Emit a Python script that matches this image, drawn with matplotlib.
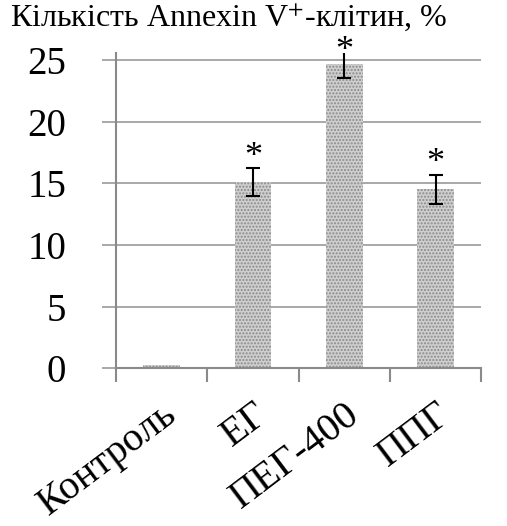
import numpy as np
import matplotlib.pyplot as plt

plt.rcParams['font.family'] = ['Liberation Serif', 'DejaVu Serif']
plt.rcParams['mathtext.fontset'] = 'stix'
plt.rcParams['hatch.linewidth'] = 1.0

groups = ['Контроль', 'ЕГ', 'ПЕГ-400', 'ППГ']
values = [0.25, 15.1, 24.7, 14.5]
errors = [0.0, 1.1, 1.2, 1.2]
significant = [False, True, True, True]

fig = plt.figure(figsize=(5.07, 5.26), dpi=100)
ax = fig.add_axes([0.229, 0.300, 0.720, 0.600])

x = np.arange(len(groups))
ax.bar(x, values, width=0.4, color='#cfcfcf', edgecolor='#8a8a8a',
       hatch='.....', linewidth=0, zorder=2)
ax.errorbar(x[1:], values[1:], yerr=errors[1:], fmt='none', ecolor='black',
            elinewidth=1.5, capsize=5, capthick=1.5, zorder=3)

# significance marks above the error bars, kept under the title
for xi, v, e, s in zip(x, values, errors, significant):
    if s:
        ax.text(xi, min(v + e + 0.9, 25.7), '*', ha='center', va='center',
                fontsize=26, clip_on=False)

ax.set_xlim(-0.5, len(groups) - 0.5)
ax.set_ylim(0, 25.6)
ax.set_yticks(np.arange(0, 26, 5))
ax.yaxis.grid(True, color='#999999', linewidth=1.2, zorder=0)
ax.set_axisbelow(True)

ax.set_xticks(x)
ax.set_xticklabels(groups, rotation=37, ha='right', va='top',
                   rotation_mode='anchor', fontsize=29)
ax.set_xticks(np.arange(-0.5, len(groups)), minor=True)
ax.tick_params(axis='x', which='major', length=0, pad=20)
ax.tick_params(axis='x', which='minor', length=10, width=1.5, color='#8a8a8a')
ax.tick_params(axis='y', length=10, width=1.2, color='#999999', pad=26,
               labelsize=28)

for side in ['top', 'right']:
    ax.spines[side].set_visible(False)
for side in ['left', 'bottom']:
    ax.spines[side].set_color('#8a8a8a')
    ax.spines[side].set_linewidth(1.5)

fig.text(0.02, 0.966, r'Кількість Annexin V$^{+}$-клітин, %', fontsize=23,
         ha='left', va='center')

fig.savefig('out.png', dpi=100)
